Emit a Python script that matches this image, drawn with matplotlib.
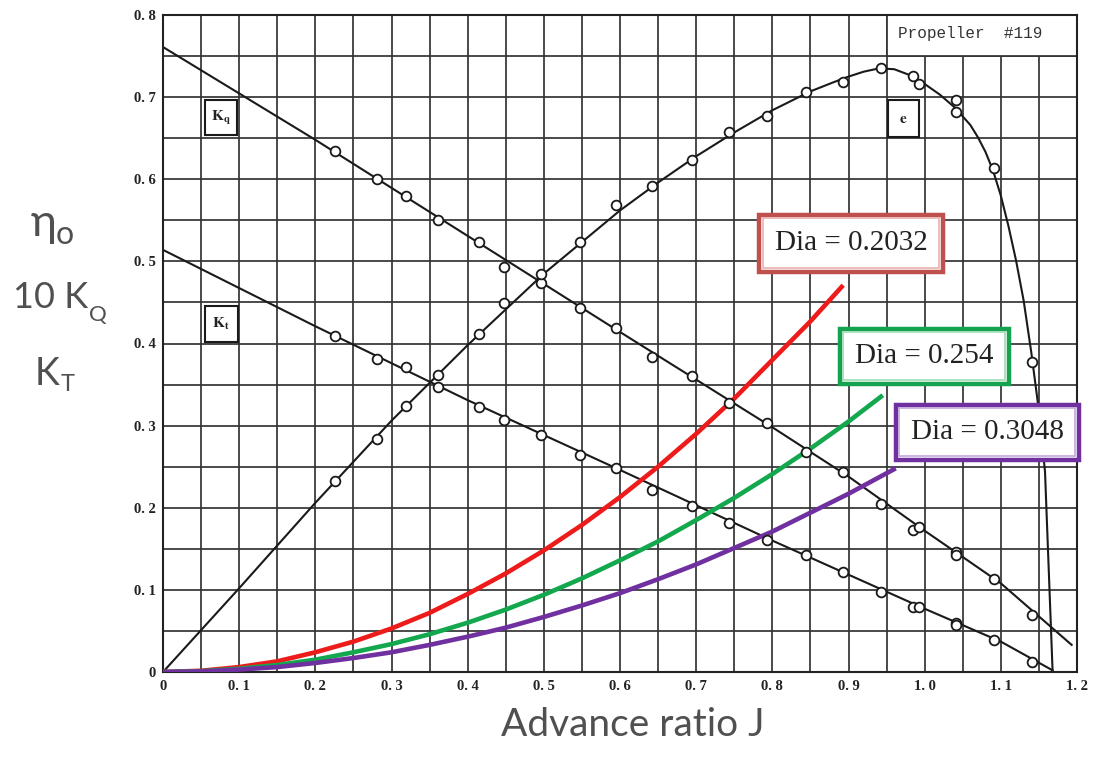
import numpy as np
import matplotlib
matplotlib.use("Agg")
import matplotlib.pyplot as plt
from matplotlib.patches import Rectangle

# ---- open-water test points (advance ratio J) ----
J_pts = [0.226, 0.281, 0.319, 0.361, 0.415, 0.448, 0.496, 0.547, 0.595, 0.642, 0.694,
         0.743, 0.793, 0.844, 0.893, 0.943, 0.985, 0.993, 1.041, 1.041, 1.091, 1.141]
kq10_pts = [0.635, 0.600, 0.579, 0.550, 0.523, 0.493, 0.474, 0.443, 0.419, 0.384, 0.361,
            0.328, 0.303, 0.268, 0.244, 0.205, 0.173, 0.176, 0.146, 0.142, 0.113, 0.069]
kt_pts = [0.409, 0.381, 0.371, 0.347, 0.323, 0.307, 0.289, 0.264, 0.248, 0.222, 0.202,
          0.181, 0.161, 0.143, 0.122, 0.097, 0.079, 0.079, 0.060, 0.057, 0.039, 0.012]
eta_pts = [0.233, 0.284, 0.324, 0.362, 0.412, 0.449, 0.485, 0.523, 0.569, 0.592, 0.624,
           0.657, 0.677, 0.706, 0.719, 0.736, 0.726, 0.716, 0.696, 0.682, 0.614, 0.378]

# ---- faired curves ----
kq10_curve_J = [0.0, 0.2, 0.4, 0.6, 0.8, 0.9, 1.0, 1.1, 1.193]
kq10_curve = [0.761, 0.648, 0.531, 0.414, 0.298, 0.238, 0.172, 0.108, 0.033]

kt_curve_J = [0.0, 0.2, 0.4, 0.6, 0.8, 1.0, 1.1, 1.168]
kt_curve = [0.514, 0.421, 0.331, 0.246, 0.160, 0.077, 0.037, 0.002]

eta_curve_J = [0.0, 0.1, 0.2, 0.3, 0.4, 0.5, 0.6, 0.65, 0.7, 0.75, 0.8, 0.85, 0.88,
               0.90, 0.92, 0.94, 0.96, 0.98, 1.00, 1.02, 1.04, 1.06, 1.07, 1.08, 1.09,
               1.10, 1.11, 1.12, 1.13, 1.14, 1.15, 1.158, 1.168]
eta_curve = [0.0, 0.102, 0.206, 0.306, 0.398, 0.485, 0.562, 0.596, 0.628, 0.657, 0.684,
             0.707, 0.718, 0.725, 0.731, 0.735, 0.734, 0.727, 0.716, 0.703, 0.687, 0.666,
             0.651, 0.633, 0.610, 0.580, 0.543, 0.501, 0.452, 0.389, 0.318, 0.244, 0.0]

# ---- required thrust curves for three propeller diameters ----
dia_labels = ["Dia = 0.2032", "Dia = 0.254", "Dia = 0.3048"]
dia_J = [
    [0.0, 0.05, 0.1, 0.15, 0.2, 0.25, 0.3, 0.35, 0.4, 0.45, 0.5, 0.55, 0.6, 0.65,
     0.7, 0.75, 0.8, 0.85, 0.893],
    [0.0, 0.05, 0.1, 0.15, 0.2, 0.25, 0.3, 0.35, 0.4, 0.45, 0.5, 0.55, 0.6, 0.65,
     0.7, 0.75, 0.8, 0.85, 0.9, 0.945],
    [0.0, 0.05, 0.1, 0.15, 0.2, 0.25, 0.3, 0.35, 0.4, 0.45, 0.5, 0.55, 0.6, 0.65,
     0.7, 0.75, 0.8, 0.85, 0.9, 0.962],
]
dia_kt = [
    [0.0, 0.0015, 0.006, 0.013, 0.024, 0.037, 0.053, 0.072, 0.095, 0.120, 0.148, 0.179,
     0.213, 0.250, 0.290, 0.333, 0.380, 0.427, 0.471],
    [0.0, 0.001, 0.004, 0.0085, 0.015, 0.024, 0.034, 0.046, 0.060, 0.076, 0.094, 0.114,
     0.136, 0.159, 0.185, 0.212, 0.241, 0.272, 0.305, 0.337],
    [0.0, 0.0007, 0.003, 0.006, 0.011, 0.017, 0.024, 0.033, 0.043, 0.054, 0.067, 0.081,
     0.096, 0.113, 0.131, 0.151, 0.171, 0.194, 0.217, 0.248],
]
dia_colors = ["#ee1b1b", "#13a84e", "#7030a0"]
box_edge = ["#c0504d", "#16a34f", "#7030a0"]
box_inner = ["#e8b2b1", "#9fdcb4", "#c3a6dc"]

xtick_vals = [0.0, 0.1, 0.2, 0.3, 0.4, 0.5, 0.6, 0.7, 0.8, 0.9, 1.0, 1.1, 1.2]
xtick_labels = ["0", "0. 1", "0. 2", "0. 3", "0. 4", "0. 5", "0. 6", "0. 7", "0. 8",
                "0. 9", "1. 0", "1. 1", "1. 2"]
ytick_vals = [0.0, 0.1, 0.2, 0.3, 0.4, 0.5, 0.6, 0.7, 0.8]
ytick_labels = ["0", "0. 1", "0. 2", "0. 3", "0. 4", "0. 5", "0. 6", "0. 7", "0. 8"]

W, H = 1096, 759
fig = plt.figure(figsize=(W / 100, H / 100), dpi=100)
fig.patch.set_facecolor("white")
ax = fig.add_axes([163 / W, 87 / H, 914 / W, 657 / H])
ax.set_xlim(0, 1.2)
ax.set_ylim(0, 0.8)

# grid every 0.05
ax.set_xticks(np.arange(0, 1.2001, 0.05), minor=True)
ax.set_yticks(np.arange(0, 0.8001, 0.05), minor=True)
ax.set_xticks(xtick_vals)
ax.set_xticklabels(xtick_labels)
ax.set_yticks(ytick_vals)
ax.set_yticklabels(ytick_labels)
ax.set_axisbelow(True)
ax.grid(which="both", color="#333333", lw=1.25)
ax.tick_params(which="both", length=0)
ax.tick_params(axis="x", pad=6)
ax.tick_params(axis="y", pad=5)
for lab in ax.get_xticklabels() + ax.get_yticklabels():
    lab.set_fontfamily("Liberation Serif")
    lab.set_fontweight("bold")
    lab.set_fontsize(10.5)
    lab.set_color("#222222")
for s in ax.spines.values():
    s.set_linewidth(1.5)
    s.set_color("#222222")

# title block in the upper right cell row
ax.add_patch(Rectangle((0.95, 0.75), 0.25, 0.05, fc="white", ec="#333333", lw=1.25, zorder=1))
ax.text(0.965, 0.778, "Propeller  #119", family="Liberation Mono", fontsize=11.5,
        color="#333333", va="center", ha="left", zorder=2)

# faired curves
ax.plot(kq10_curve_J, kq10_curve, color="#1a1a1a", lw=1.5, zorder=2)
ax.plot(kt_curve_J, kt_curve, color="#1a1a1a", lw=1.5, zorder=2)
ax.plot(eta_curve_J, eta_curve, color="#1a1a1a", lw=1.5, zorder=2,
        solid_joinstyle="round")

# test points
for vals in (kq10_pts, kt_pts, eta_pts):
    ax.plot(J_pts, vals, "o", ms=7, mfc="white", mec="#1a1a1a", mew=1.3, zorder=4)

# curve tags
tags = [((0.055, 0.654), 0.042, 0.042, r"$\mathbf{K_q}$"),
        ((0.055, 0.402), 0.043, 0.044, r"$\mathbf{K_t}$"),
        ((0.952, 0.651), 0.040, 0.045, r"$\mathbf{e}$")]
for (x0, y0), w, h, t in tags:
    ax.add_patch(Rectangle((x0, y0), w, h, fc="white", ec="#1a1a1a", lw=1.5, zorder=3))
    ax.text(x0 + w / 2, y0 + h / 2, t, ha="center", va="center", fontsize=11,
            math_fontfamily="stix", color="#222222", zorder=3.5)

# thrust curves for each diameter
for xs, ys, c in zip(dia_J, dia_kt, dia_colors):
    ax.plot(xs, ys, color=c, lw=3.3, solid_capstyle="butt", solid_joinstyle="round",
            zorder=3)

# diameter labels with double-line frames
px_x = 1.2 / 914.0
px_y = 0.8 / 657.0
dia_boxes = [(0.7825, 0.4872, 0.2415, 0.0694),
             (0.8888, 0.3508, 0.2219, 0.0670),
             (0.9623, 0.2582, 0.2403, 0.0670)]
for (x0, y0, w, h), lab, ec, ic in zip(dia_boxes, dia_labels, box_edge, box_inner):
    ax.add_patch(Rectangle((x0, y0), w, h, fc="white", ec=ec, lw=3.2, zorder=5,
                           clip_on=False))
    ax.add_patch(Rectangle((x0 + 3.5 * px_x, y0 + 3.5 * px_y), w - 7 * px_x, h - 7 * px_y,
                           fc="none", ec=ic, lw=1.2, zorder=5.2, clip_on=False))
    ax.text(x0 + w / 2, y0 + h / 2, lab, family="Liberation Serif", fontsize=21,
            color="#222222", ha="center", va="center", zorder=6, clip_on=False)

# axis titles
grey = "#505050"
sans = ["Lato", "DejaVu Sans"]
fig.text(31 / W, 1 - 236 / H, "η", family=sans, fontsize=32, color=grey, va="baseline")
fig.text(56 / W, 1 - 244 / H, "o", family=sans, fontsize=23, color=grey, va="baseline")
fig.text(13 / W, 1 - 308 / H, "10 K", family=sans, fontsize=26, color=grey, va="baseline")
fig.text(89 / W, 1 - 321 / H, "Q", family=sans, fontsize=16, color=grey, va="baseline")
fig.text(35 / W, 1 - 385 / H, "K", family=sans, fontsize=27, color=grey, va="baseline")
fig.text(61 / W, 1 - 391 / H, "T", family=sans, fontsize=17, color=grey, va="baseline")
fig.text(633 / W, 1 - 736 / H, "Advance ratio J", family=sans, fontsize=28, color=grey,
         va="baseline", ha="center")

fig.savefig("out.png", dpi=100, facecolor="white")
